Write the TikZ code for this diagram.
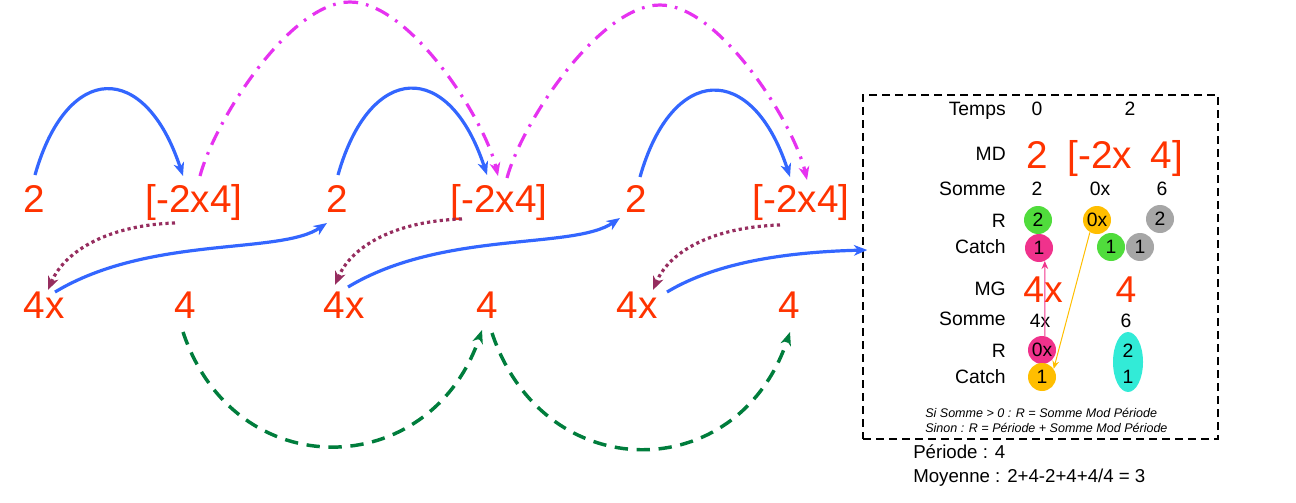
\documentclass[tikz,border=0pt]{standalone}
\usepackage{fontspec}
\setmainfont{Liberation Sans}
\usetikzlibrary{arrows.meta,calc,shapes.geometric}
\definecolor{lblc}{RGB}{255,51,0}
\definecolor{bluec}{RGB}{51,102,255}
\definecolor{magc}{RGB}{230,50,240}
\definecolor{purc}{RGB}{150,45,95}
\definecolor{grnc}{RGB}{0,125,60}
\definecolor{gballc}{RGB}{80,220,60}
\definecolor{pballc}{RGB}{240,50,140}
\definecolor{oballc}{RGB}{255,190,0}
\definecolor{grayballc}{RGB}{166,166,166}
\definecolor{cyanc}{RGB}{50,235,215}
\begin{document}
\begin{tikzpicture}[x=0.75pt,y=-0.75pt,
  lab/.style={text=lblc,font=\fontsize{29}{29}\selectfont,inner sep=0pt,anchor=base},
  rowlab/.style={font=\fontsize{14.5}{14.5}\selectfont,inner sep=0pt,anchor=base east},
  val/.style={font=\fontsize{14.5}{14.5}\selectfont,inner sep=0pt,anchor=base},
  ball/.style={circle,fill=#1,minimum size=21pt,inner sep=0pt,font=\fontsize{14.5}{14.5}\selectfont},
  note/.style={font=\fontsize{9.4}{9.4}\selectfont\itshape,inner sep=0pt,anchor=base west},
  info/.style={font=\fontsize{14}{14}\selectfont,inner sep=0pt,anchor=base west},
  bluearr/.style={draw=bluec,line width=2.4pt,-{Stealth[length=10pt,width=8pt,inset=3pt]}},
  magarr/.style={draw=magc,line width=2.4pt,dash pattern=on 11pt off 6pt on 2pt off 6pt,-{Stealth[length=10pt,width=8pt,inset=3pt]}},
  grnarr/.style={draw=grnc,line width=2.6pt,dash pattern=on 10pt off 6.5pt,-{Stealth[length=10pt,width=8pt,inset=3pt]}},
  purarr/.style={draw=purc,line width=2.4pt,dash pattern=on 2.4pt off 2.4pt,-{Stealth[length=10pt,width=8pt,inset=3pt]}},
  thinarr/.style={draw=#1,line width=0.75pt,-{Stealth[length=6pt,width=5pt,inset=2pt]}},
]
\useasboundingbox (0,0) rectangle (1296,503);

% main labels
\node[lab] (d1) at (34,212) {2};
\node[lab] (b1) at (194,212) {[-2x4]};
\node[lab] (d2) at (337,212) {2};
\node[lab] (b2) at (499,212) {[-2x4]};
\node[lab] (d3) at (636,212) {2};
\node[lab] (b3) at (801,212) {[-2x4]};
\node[lab] (g1) at (44,318) {4x};
\node[lab] (f1) at (185,318) {4};
\node[lab] (g2) at (344,318) {4x};
\node[lab] (f2) at (487,318) {4};
\node[lab] (g3) at (637,318) {4x};
\node[lab] (f3) at (789,318) {4};

% table box
\node[draw,line width=1.1pt,dash pattern=on 6pt off 3.75pt,minimum width=266.25pt,minimum height=258pt,inner sep=0pt] (tbl) at (1040.5,267) {};

% blue arcs
\draw[bluearr] ($(d1.base)+(1,-37)$) .. controls +(32,-113) and +(-38,-116) .. ($(b1.base)+(-11,-36)$);
\draw[bluearr] ($(d2.base)+(1,-37)$) .. controls +(32,-113) and +(-38,-116) .. ($(b2.base)+(-12,-37)$);
\draw[bluearr] ($(d3.base)+(4,-35)$) .. controls +(32,-113) and +(-38,-116) .. ($(b3.base)+(-11,-35)$);

% magenta arcs
\draw[magarr] ($(b1.base)+(6,-36)$) .. controls +(15,-56) and +(-60,0) .. ++(150,-174) .. controls +(60,0) and +(-13,-56) .. ($(b2.base)+(-1,-36)$);
\draw[magarr] ($(b2.base)+(8,-34)$) .. controls +(15,-56) and +(-60,0) .. ++(153,-173) .. controls +(60,0) and +(-13,-56) .. ($(b3.base)+(6,-32)$);

% green arcs
\draw[grnarr] ($(f1.base)+(-2,14)$) .. controls +(52,155) and +(-52,152) .. ($(f2.base)+(-5,12)$);
\draw[grnarr] ($(f2.base)+(5,15)$) .. controls +(52,155) and +(-52,155) .. ($(f3.base)+(1,14)$);

% purple dotted
\draw[purarr] ($(b1.base)+(-19,11)$) .. controls +(-65,2) and +(17,-40) .. ($(g1.base)+(4,-28)$);
\draw[purarr] ($(b2.base)+(-37,7)$) .. controls +(-65,2) and +(17,-40) .. ($(g2.base)+(-9,-33)$);
\draw[purarr] ($(b3.base)+(-21,13)$) .. controls +(-65,2) and +(17,-40) .. ($(g3.base)+(16,-28)$);

% blue S curves
\draw[bluearr] ($(g1.base)+(11,-26)$) .. controls +(95,-57) and +(-47,32) .. ($(d2.base)+(-10,11)$);
\draw[bluearr] ($(g2.base)+(4,-31)$) .. controls +(95,-57) and +(-47,32) .. ($(d3.base)+(-16,6)$);
\draw[bluearr] ($(g3.base)+(30,-26)$) .. controls +(50,-30) and +(-80,2) .. ($(tbl.west)+(5,-17)$);

% table contents
\node[rowlab] (lt) at (1006,115) {Temps};
\node[val] (t0) at (1037,115) {0};
\node[val] (t2) at (1130,115) {2};
\node[rowlab] (lmd) at (1006,160) {MD};
\node[lab] (md1) at (1037,168) {2};
\node[lab] (md2) at (1100,168) {[-2x};
\node[lab] (md3) at (1167,168) {4]};
\node[rowlab] (ls1) at (1006,195) {Somme};
\node[val] (s1a) at (1037,195) {2};
\node[val] (s1b) at (1100,195) {0x};
\node[val] (s1c) at (1162,195) {6};
\node[rowlab] (lr1) at (1006,227) {R};
\node[ball=gballc] (r2) at (1038,220) {2};
\node[ball=oballc] (o0x) at (1097,220) {0x};
\node[ball=grayballc] (gr2) at (1160,219) {2};
\node[rowlab] (lc1) at (1006,253) {Catch};
\node[ball=pballc] (pc1) at (1039,248) {1};
\node[ball=gballc] (gc1) at (1111,247) {1};
\node[ball=grayballc] (grc1) at (1140,247) {1};
\node[rowlab] (lmg) at (1006,295) {MG};
\node[lab,font=\fontsize{28}{28}\selectfont] (mg1) at (1043,302) {4x};
\node[lab,font=\fontsize{28}{28}\selectfont] (mg2) at (1126,302) {4};
\node[rowlab] (ls2) at (1006,325) {Somme};
\node[val] (s2a) at (1040,327) {4x};
\node[val] (s2b) at (1126,327) {6};
\node[rowlab] (lr2) at (1006,357) {R};
\node[ball=pballc] (r0x) at (1042,350) {0x};
\node[ellipse,fill=cyanc,minimum width=22.5pt,minimum height=45pt,inner sep=0pt] (cy) at (1128,362) {};
\node[val,anchor=center] (cy2) at (1128,351) {2};
\node[val,anchor=center] (cy1) at (1128,377) {1};
\node[rowlab] (lc2) at (1006,383) {Catch};
\node[ball=oballc] (oc1) at (1042,377) {1};

\draw[thinarr=pballc] (r0x.78) -- (pc1.-66);
\draw[thinarr=oballc] (o0x.240) -- (oc1.35);

\node[note] (n1) at (925,417) {Si Somme > 0 : R = Somme Mod Période};
\node[note] (n2) at (925,432) {Sinon : R = Période + Somme Mod Période};

\node[info] (per) at (913,458) {Période : 4};
\node[info] (moy) at (913,482) {Moyenne : 2+4-2+4+4/4 = 3};
\end{tikzpicture}
\end{document}
